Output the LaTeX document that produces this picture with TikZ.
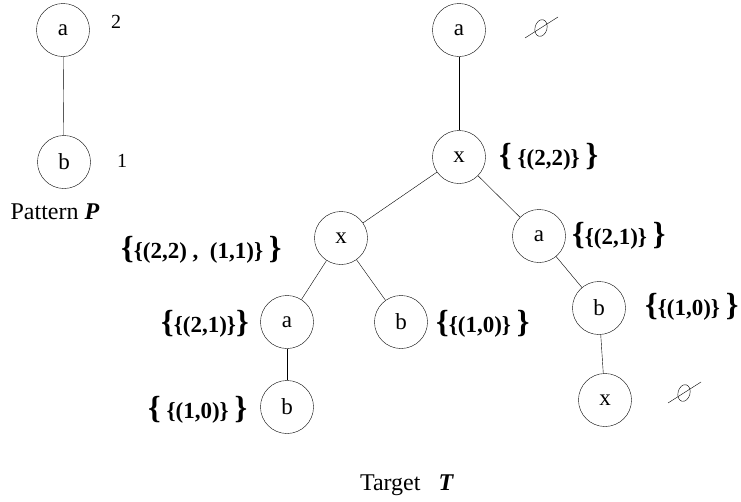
\documentclass[tikz,border=0pt]{standalone}
\usepackage{fontspec}
\setmainfont{Liberation Serif}
\usetikzlibrary{shapes.geometric}
\newcommand{\BL}{{\fontsize{32}{32}\selectfont\bfseries\{}}
\newcommand{\BR}{{\fontsize{32}{32}\selectfont\bfseries\}}}
\begin{document}
\begin{tikzpicture}[x=1pt,y=-1pt,
  vert/.style={draw,circle,minimum size=53pt,inner sep=0pt,font=\fontsize{23}{23}\selectfont},
  lbl/.style={inner sep=0pt,font=\fontsize{23}{23}\selectfont\bfseries},
  txt/.style={inner sep=0pt,font=\fontsize{24}{24}\selectfont},
  num/.style={inner sep=0pt,font=\fontsize{20}{20}\selectfont},
  emp/.style={draw,ellipse,minimum width=12pt,minimum height=17pt,inner sep=0pt,rotate=-15}]
\useasboundingbox (0,0) rectangle (741,501);
% pattern
\node[vert] (pa) at (63,30) {a};
\node[vert] (pb) at (64,162) {b};
\draw (pa) -- (pb);
\node[num] (p2) at (116,22) {2};
\node[num] (p1) at (122,161) {1};
\node[txt] (pl) at (55,212) {Pattern \textbf{\textit{P}}};
% target
\node[vert] (ta) at (459,30) {a};
\node[vert] (tx) at (459,157) {x};
\node[vert] (xl) at (341,238) {x};
\node[vert] (ar) at (539,236) {a};
\node[vert] (al) at (287,322) {a};
\node[vert] (bm) at (401,322) {b};
\node[vert] (bl) at (287,407) {b};
\node[vert] (br) at (599,308) {b};
\node[vert] (xb) at (605,400) {x};
\draw (ta) -- (tx);
\draw (tx) -- (xl);
\draw (tx) -- (ar);
\draw (xl) -- (al);
\draw (xl) -- (bm);
\draw (al) -- (bl);
\draw (ar) -- (br);
\draw (br) -- (xb);
% empty sets
\node[emp] (e1) at (541,28) {};
\draw ([shift={(-16,10)}]e1.center) -- ([shift={(17,-11)}]e1.center);
\node[emp] (e2) at (684,393) {};
\draw ([shift={(-16,10)}]e2.center) -- ([shift={(17,-11)}]e2.center);
% labels
\node[lbl,anchor=west] (l1) at (499,157) {\BL\ \{(2,2)\}\ \BR};
\node[lbl,anchor=west] (l2) at (121,250) {\BL\{(2,2) ,\ \ (1,1)\}\ \BR};
\node[lbl,anchor=west] (l3) at (572,236) {\BL\{(2,1)\}\ \BR};
\node[lbl,anchor=west] (l4) at (161,324) {\BL\{(2,1)\}\BR};
\node[lbl,anchor=west] (l5) at (436,324) {\BL\{(1,0)\}\ \BR};
\node[lbl,anchor=west] (l6) at (645,307) {\BL\{(1,0)\}\ \BR};
\node[lbl,anchor=west] (l7) at (148,410) {\BL\ \{(1,0)\}\ \BR};
\node[txt] (tl) at (407,485) {Target\ \ \ \textbf{\textit{T}}};
\end{tikzpicture}
\end{document}
